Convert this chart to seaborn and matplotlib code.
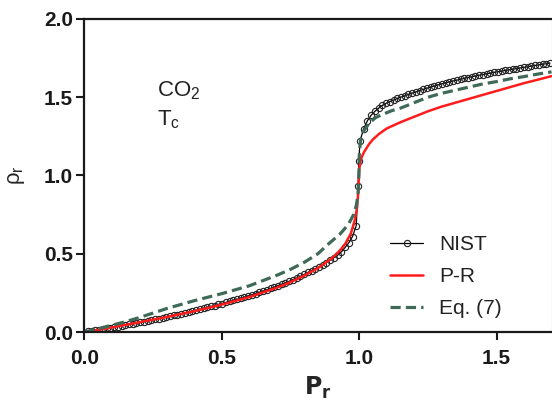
import numpy as np
import pandas as pd
import matplotlib
matplotlib.use('Agg')
import matplotlib.pyplot as plt
import seaborn as sns

# CO2 critical pressure, MPa (used to turn NIST pressures into reduced pressure)
PC_MPA = 7.377

# NIST isotherm at Tc: pressure (MPa) and reduced density
nist_p = [0.1, 0.2, 0.3, 0.4, 0.5, 0.6, 0.7, 0.8, 0.9, 1.0,
          1.1, 1.2, 1.3, 1.4, 1.5, 1.6, 1.7, 1.8, 1.9, 2.0,
          2.1, 2.2, 2.3, 2.4, 2.5, 2.6, 2.7, 2.8, 2.9, 3.0,
          3.1, 3.2, 3.3, 3.4, 3.5, 3.6, 3.7, 3.8, 3.9, 4.0,
          4.1, 4.2, 4.3, 4.4, 4.5, 4.6, 4.7, 4.8, 4.9, 5.0,
          5.1, 5.2, 5.3, 5.4, 5.5, 5.6, 5.7, 5.8, 5.9, 6.0,
          6.1, 6.2, 6.3, 6.4, 6.5, 6.6, 6.7, 6.8, 6.9, 7.0,
          7.1, 7.2, 7.3, 7.35, 7.37, 7.4, 7.5, 7.6, 7.7, 7.8,
          7.9, 8.0, 8.1, 8.2, 8.3, 8.4, 8.5, 8.6, 8.7, 8.8,
          8.9, 9.0, 9.1, 9.2, 9.3, 9.4, 9.5, 9.6, 9.7, 9.8,
          9.9, 10.0, 10.1, 10.2, 10.3, 10.4, 10.5, 10.6, 10.7, 10.8,
          10.9, 11.0, 11.1, 11.2, 11.3, 11.4, 11.5, 11.6, 11.7, 11.8,
          11.9, 12.0, 12.1, 12.2, 12.3, 12.4, 12.5]
nist_rho = [0.004, 0.008, 0.012, 0.015, 0.019, 0.023, 0.027, 0.031, 0.035, 0.040,
            0.044, 0.048, 0.052, 0.056, 0.061, 0.065, 0.070, 0.075, 0.080, 0.085,
            0.090, 0.095, 0.100, 0.106, 0.111, 0.117, 0.122, 0.127, 0.133, 0.139,
            0.145, 0.151, 0.157, 0.163, 0.169, 0.176, 0.182, 0.189, 0.195, 0.202,
            0.209, 0.216, 0.223, 0.231, 0.238, 0.246, 0.254, 0.262, 0.270, 0.278,
            0.287, 0.296, 0.305, 0.314, 0.324, 0.334, 0.345, 0.356, 0.368, 0.381,
            0.392, 0.404, 0.416, 0.429, 0.443, 0.458, 0.474, 0.491, 0.512, 0.540,
            0.570, 0.610, 0.680, 0.930, 1.090, 1.220, 1.300, 1.350, 1.385, 1.410,
            1.430, 1.448, 1.461, 1.472, 1.482, 1.492, 1.501, 1.509, 1.518, 1.526,
            1.534, 1.542, 1.550, 1.558, 1.565, 1.572, 1.579, 1.586, 1.592, 1.598,
            1.604, 1.609, 1.615, 1.620, 1.626, 1.631, 1.636, 1.641, 1.645, 1.650,
            1.654, 1.659, 1.663, 1.667, 1.671, 1.675, 1.679, 1.683, 1.687, 1.691,
            1.695, 1.699, 1.703, 1.707, 1.711, 1.714, 1.718]

# Peng-Robinson curve
pr_pr = [0.04, 0.10, 0.20, 0.30, 0.40, 0.50, 0.60, 0.70, 0.75, 0.80,
         0.85, 0.90, 0.93, 0.95, 0.97, 0.985, 0.993, 0.997, 0.999, 1.0005,
         1.005, 1.010, 1.018, 1.036, 1.05, 1.072, 1.10, 1.15, 1.20, 1.25,
         1.30, 1.35, 1.40, 1.45, 1.50, 1.55, 1.60, 1.65, 1.70]
pr_rho = [0.010, 0.029, 0.062, 0.096, 0.133, 0.175, 0.223, 0.283, 0.318, 0.360,
          0.408, 0.470, 0.520, 0.565, 0.630, 0.720, 0.800, 0.900, 0.980, 1.040,
          1.090, 1.120, 1.150, 1.200, 1.230, 1.265, 1.300, 1.340, 1.375, 1.410,
          1.440, 1.465, 1.490, 1.515, 1.540, 1.565, 1.590, 1.612, 1.635]

# Eq. (7) curve
eq_pr = [0.00, 0.05, 0.10, 0.15, 0.20, 0.30, 0.40, 0.50, 0.60, 0.70,
         0.75, 0.80, 0.85, 0.89, 0.93, 0.96, 0.98, 0.99, 0.996, 0.999,
         1.001, 1.005, 1.015, 1.036, 1.06, 1.085, 1.12, 1.15, 1.20, 1.25,
         1.30, 1.35, 1.40, 1.45, 1.50, 1.55, 1.60, 1.65, 1.70]
eq_rho = [0.000, 0.020, 0.043, 0.066, 0.092, 0.150, 0.200, 0.245, 0.295, 0.362,
          0.400, 0.445, 0.500, 0.565, 0.625, 0.685, 0.750, 0.810, 0.880, 1.000,
          1.150, 1.220, 1.280, 1.333, 1.370, 1.390, 1.415, 1.430, 1.465, 1.500,
          1.525, 1.545, 1.565, 1.585, 1.600, 1.618, 1.632, 1.648, 1.662]

nist = pd.DataFrame({'Pr': np.array(nist_p) / PC_MPA, 'rho': nist_rho})

sns.set_style('ticks')
plt.rcParams['font.family'] = ['Liberation Sans', 'DejaVu Sans']
plt.rcParams['mathtext.default'] = 'regular'

fig = plt.figure(figsize=(5.52, 4.04), dpi=100)
ax = fig.add_axes([0.1527, 0.1782, 0.8464, 0.7748])

sns.lineplot(data=nist, x='Pr', y='rho', ax=ax, sort=False, color='black',
             lw=0.9, marker='o', markersize=4.5, markerfacecolor='none',
             markeredgecolor='#222222', markeredgewidth=0.8, label='NIST')
sns.lineplot(x=pr_pr, y=pr_rho, ax=ax, sort=False, color='#ff1c1c', lw=1.8,
             label='P-R')
sns.lineplot(x=eq_pr, y=eq_rho, ax=ax, sort=False, color='#3f6a57', lw=2.3,
             dashes=False, linestyle=(0, (3.2, 1.6)), label='Eq. (7)')

ax.set_xlim(0, 1.7)
ax.set_ylim(0, 2.0)
ax.set_xticks([0.0, 0.5, 1.0, 1.5])
ax.set_yticks([0.0, 0.5, 1.0, 1.5, 2.0])
ax.xaxis.set_major_formatter(matplotlib.ticker.FormatStrFormatter('%.1f'))
ax.yaxis.set_major_formatter(matplotlib.ticker.FormatStrFormatter('%.1f'))
ax.tick_params(axis='both', length=6, width=1.5, labelsize=15, pad=2,
               colors='#1a1a1a')
ax.tick_params(axis='x', pad=6)
for lab in ax.get_xticklabels() + ax.get_yticklabels():
    lab.set_fontweight('bold')

for side in ['left', 'bottom', 'top']:
    ax.spines[side].set_linewidth(1.6)
    ax.spines[side].set_color('#1a1a1a')
ax.spines['right'].set_linewidth(0.8)
ax.spines['right'].set_color('#9a9a9a')

ax.set_xlabel(r'$\mathbf{P_r}$', fontsize=17, labelpad=5)
ax.set_ylabel(r'$ρ_r$', fontsize=16, labelpad=12)

ax.text(0.263, 1.503, r'CO$_2$', fontsize=16, color='#222222')
ax.text(0.263, 1.32, r'T$_c$', fontsize=16, color='#222222')

leg = ax.legend(loc='center left', bbox_to_anchor=(0.633, 0.177), frameon=False,
                fontsize=15, borderpad=0, handlelength=1.55,
                handletextpad=0.8, labelspacing=0.62)
for t in leg.get_texts():
    t.set_color('#222222')

fig.savefig('out.png', dpi=100)
